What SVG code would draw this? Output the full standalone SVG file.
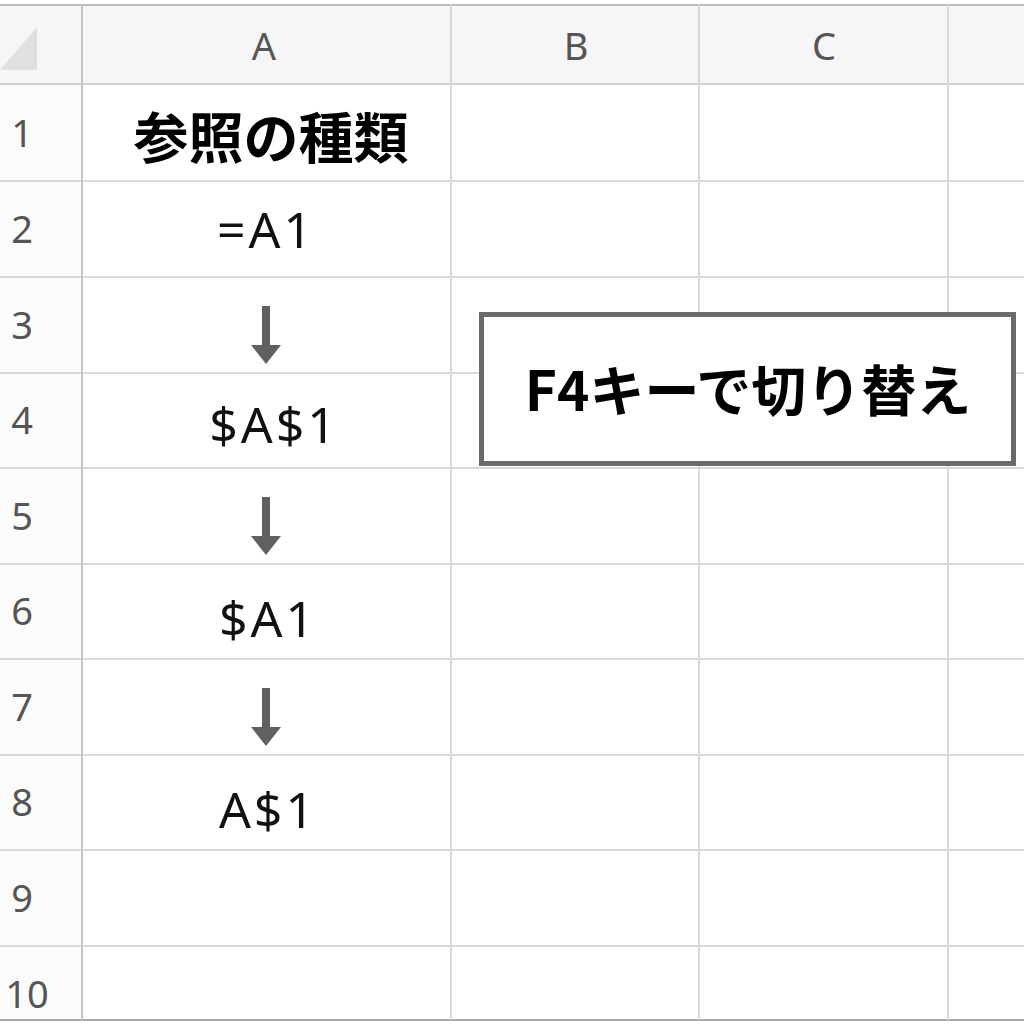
<svg xmlns="http://www.w3.org/2000/svg" width="1024" height="1024" viewBox="0 0 1024 1024">
<style>
.grid{stroke:#d9d9d9;stroke-width:2;fill:none}
.hdr{font-family:"Noto Sans","Noto Sans CJK JP",sans-serif;font-size:38px;fill:#555;text-anchor:middle}
.cell{font-family:"Noto Sans","Noto Sans CJK JP",sans-serif;font-size:50px;letter-spacing:3px;fill:#111;text-anchor:middle}
.bold{font-family:"Noto Sans CJK JP",sans-serif;font-weight:bold;fill:#000;text-anchor:middle}
.arrow{fill:#606060}
</style>
<defs>
<g id="arr"><rect x="-4" y="0" width="8" height="40" class="arrow"/><polygon points="-15,39 15,39 0,58" class="arrow"/></g>
</defs>
<rect width="1024" height="1024" fill="#fff"/>
<g id="sheet">
<rect x="0" y="5" width="1024" height="79" fill="#f6f6f6"/>
<rect x="0" y="84" width="82" height="936" fill="#fbfbfb"/>
<polygon points="0,70 37,70 37,27" fill="#e0e0e0"/>
<g class="grid">
<line x1="0" y1="5" x2="1024" y2="5" stroke="#bdbdbd"/>
<line x1="0" y1="84" x2="1024" y2="84" stroke="#cfcfcf"/>
<line x1="0" y1="181" x2="1024" y2="181"/>
<line x1="0" y1="277" x2="1024" y2="277"/>
<line x1="0" y1="373" x2="1024" y2="373"/>
<line x1="0" y1="468" x2="1024" y2="468"/>
<line x1="0" y1="564" x2="1024" y2="564"/>
<line x1="0" y1="659" x2="1024" y2="659"/>
<line x1="0" y1="755" x2="1024" y2="755"/>
<line x1="0" y1="850" x2="1024" y2="850"/>
<line x1="0" y1="946" x2="1024" y2="946"/>
<line x1="0" y1="1020" x2="1024" y2="1020" stroke="#a8a8a8"/>
<line x1="82" y1="5" x2="82" y2="1020" stroke="#c4c4c4"/>
<line x1="451" y1="5" x2="451" y2="1020"/>
<line x1="699" y1="5" x2="699" y2="1020"/>
<line x1="948" y1="5" x2="948" y2="1020"/>
</g>
<text class="hdr" x="264" y="60">A</text>
<text class="hdr" x="576" y="60">B</text>
<text class="hdr" x="824" y="60">C</text>
<text class="hdr" x="22" y="147">1</text>
<text class="hdr" x="22" y="243">2</text>
<text class="hdr" x="22" y="339">3</text>
<text class="hdr" x="22" y="434">4</text>
<text class="hdr" x="22" y="530">5</text>
<text class="hdr" x="22" y="625">6</text>
<text class="hdr" x="22" y="721">7</text>
<text class="hdr" x="22" y="816">8</text>
<text class="hdr" x="22" y="912">9</text>
<text class="hdr" x="27" y="1008">10</text>
</g>
<g id="title"><text class="bold" x="271" y="158" font-size="55">参照の種類</text></g>
<g id="n1"><text class="cell" x="266" y="248">=A1</text></g>
<g id="n2"><text class="cell" x="274" y="443">$A$1</text></g>
<g id="n3"><text class="cell" x="268" y="637">$A1</text></g>
<g id="n4"><text class="cell" x="268" y="828">A$1</text></g>
<g id="connectors">
<use href="#arr" x="266" y="306"/>
<use href="#arr" x="266" y="497"/>
<use href="#arr" x="266" y="688"/>
</g>
<g id="box">
<rect x="481.5" y="314.5" width="532" height="149" fill="#fff" stroke="#6a6a6a" stroke-width="5"/>
<text class="bold" x="748" y="411" font-size="55">F4キーで切り替え</text>
</g>
</svg>
